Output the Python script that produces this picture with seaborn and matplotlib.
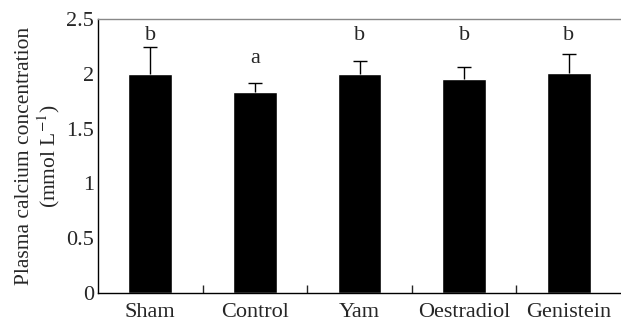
import numpy as np
import pandas as pd
import matplotlib
matplotlib.use("Agg")
import matplotlib.pyplot as plt
import seaborn as sns
from matplotlib.ticker import FixedLocator, NullFormatter

groups = ["Sham", "Control", "Yam", "Oestradiol", "Genistein"]
calcium = [2.00, 1.83, 2.00, 1.95, 2.01]
sd = [0.24, 0.09, 0.12, 0.11, 0.17]
letters = ["b", "a", "b", "b", "b"]
letter_y = [2.35, 2.14, 2.35, 2.35, 2.35]

sns.set_style("white")
plt.rcParams["font.family"] = ["Liberation Serif", "DejaVu Serif"]
plt.rcParams["mathtext.fontset"] = "stix"

df = pd.DataFrame({"group": groups, "calcium": calcium})

fig = plt.figure(figsize=(6.21, 3.22), dpi=100)
ax = fig.add_axes([98 / 621, 29 / 322, 523 / 621, 274 / 322])

sns.barplot(data=df, x="group", y="calcium", color="black", width=0.42,
            errorbar=None, saturation=1, ax=ax)
# upper error bars only
eb = ax.errorbar(np.arange(len(groups)), calcium, yerr=[np.zeros(len(sd)), sd],
                 fmt="none", ecolor="black", elinewidth=1, capsize=5, capthick=1)
eb[1][0].set_visible(False)

for i, (t, y) in enumerate(zip(letters, letter_y)):
    ax.text(i, y, t, ha="center", va="center", fontsize=16)

ax.set_xlim(-0.5, len(groups) - 0.5)
ax.set_ylim(0, 2.5)
ax.set_yticks([0, 0.5, 1, 1.5, 2, 2.5])
ax.set_yticklabels(["0", "0.5", "1", "1.5", "2", "2.5"])
ax.xaxis.set_minor_locator(FixedLocator([0.5, 1.5, 2.5, 3.5]))
ax.xaxis.set_minor_formatter(NullFormatter())
ax.tick_params(axis="x", which="major", length=0, labelsize=16, pad=7)
ax.tick_params(axis="x", which="minor", direction="in", length=6, width=1, bottom=True)
ax.tick_params(axis="y", length=0, labelsize=16, pad=3)

ax.set_xlabel("")
ax.set_ylabel("Plasma calcium concentration\n(mmol L$^{-1}$)", fontsize=15.5,
              linespacing=1.05, labelpad=3)

for s in ["left", "bottom"]:
    ax.spines[s].set_color("black")
    ax.spines[s].set_linewidth(1)
ax.spines["top"].set_color("#888888")
ax.spines["top"].set_linewidth(1)
ax.spines["right"].set_visible(False)

fig.savefig("out.png", dpi=100)
